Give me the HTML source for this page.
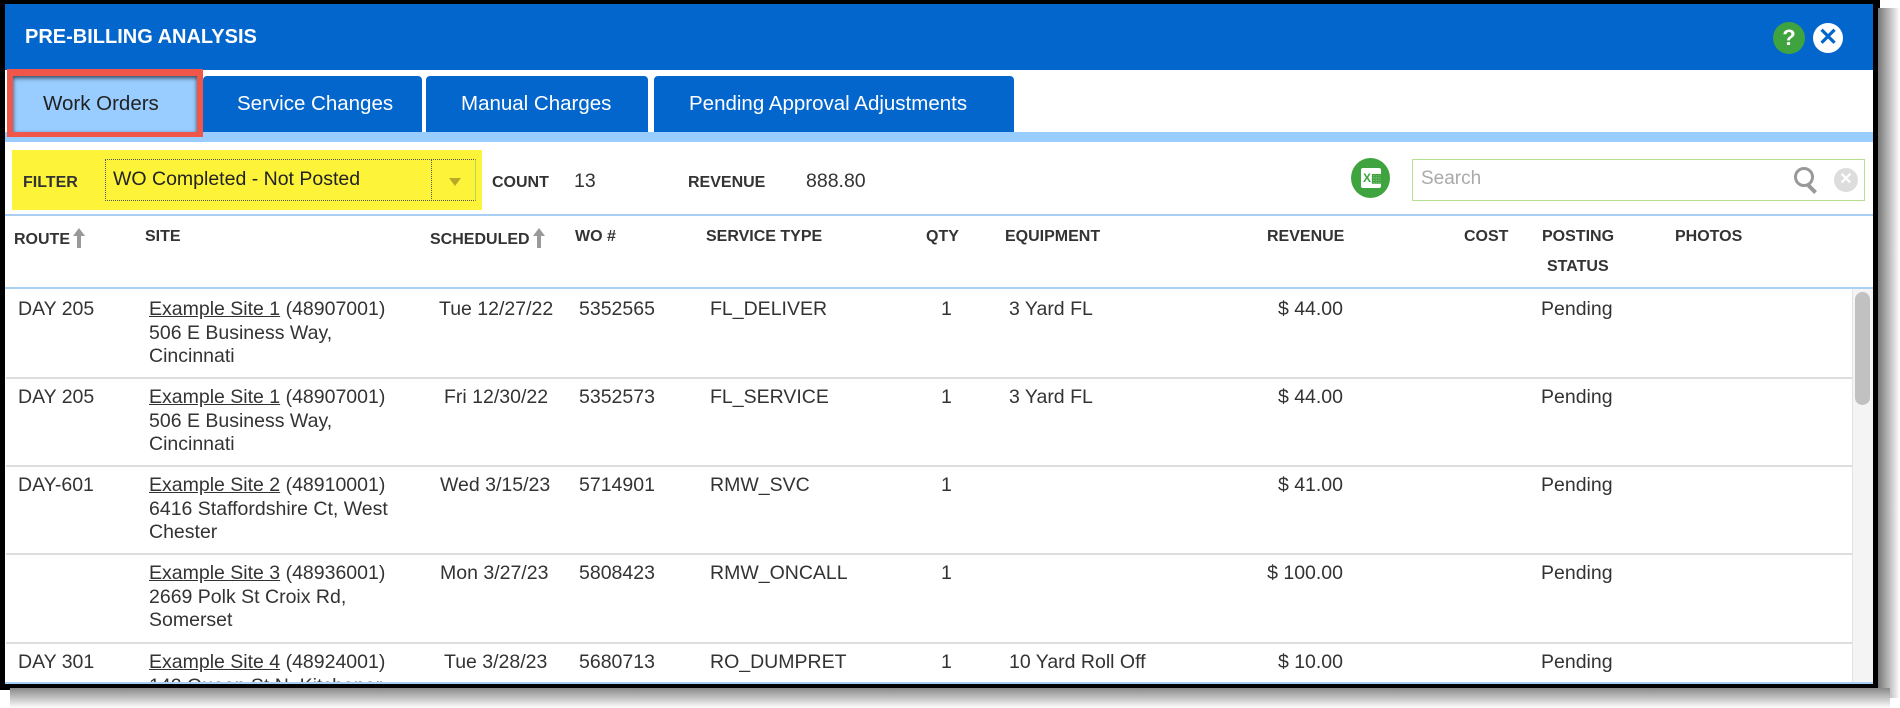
<!DOCTYPE html>
<html><head><meta charset="utf-8"><style>
*{margin:0;padding:0;box-sizing:border-box}
body{width:1900px;height:708px;background:#fff;position:relative;overflow:hidden;font-family:"Liberation Sans",Arial,sans-serif;color:#333}
.a{position:absolute;white-space:nowrap}
.h{font-weight:bold;font-size:16px;color:#333}
.c{font-size:19.5px;color:#333}
.t{font-size:20.5px}
.u{text-decoration:underline}
.sep{position:absolute;left:6px;width:1846px;height:2px;background:#ddd}
.ar{display:inline-block;position:relative;width:12px;height:20px;vertical-align:-4px;margin-left:3px}
.ar:before{content:"";position:absolute;left:0;top:0;border-left:6px solid transparent;border-right:6px solid transparent;border-bottom:8px solid #999}
.ar:after{content:"";position:absolute;left:4px;top:7px;width:4px;height:13px;background:#999}
</style></head><body>
<div class="a" style="left:0;top:0;width:1880px;height:690px;background:#000"></div>
<div class="a" style="left:1878px;top:8px;width:22px;height:690px;background:linear-gradient(to right,#777,#fff)"></div>
<div class="a" style="left:10px;top:688px;width:1880px;height:20px;background:linear-gradient(to bottom,#888,#fff)"></div>
<div class="a" style="left:5px;top:4px;width:1868px;height:680px;background:#fff"></div>
<div class="a" style="left:5px;top:4px;width:1868px;height:66px;background:#0366cc"></div>
<div class="a" style="left:25px;top:26px;color:#fff;font-weight:bold;font-size:20px">PRE-BILLING ANALYSIS</div>
<div class="a" style="left:1773px;top:22px;width:32px;height:32px;border-radius:50%;background:#3fa33f;color:#fff;font-weight:bold;font-size:22px;text-align:center;line-height:32px">?</div>
<div class="a" style="left:1813px;top:23px;width:30px;height:30px;border-radius:50%;background:#fff;color:#0366cc;font-weight:bold;font-size:24px;text-align:center;line-height:30px">✕</div>
<div class="a" style="left:5px;top:132px;width:1868px;height:10px;background:#99ccff"></div>
<div class="a" style="left:7px;top:69px;width:196px;height:68px;background:#f0574a"></div>
<div class="a" style="left:13px;top:76px;width:184px;height:56px;background:#99ccff;box-shadow:0 2px 4px #345 inset"></div>
<div class="a c t" style="left:43px;top:92px;color:#222">Work Orders</div>
<div class="a" style="left:203px;top:76px;width:219px;height:56px;background:#0366cc;border-radius:4px 4px 0 0"></div>
<div class="a c t" style="left:237px;top:92px;color:#fff">Service Changes</div>
<div class="a" style="left:426px;top:76px;width:222px;height:56px;background:#0366cc;border-radius:4px 4px 0 0"></div>
<div class="a c t" style="left:461px;top:92px;color:#fff">Manual Charges</div>
<div class="a" style="left:654px;top:76px;width:360px;height:56px;background:#0366cc;border-radius:4px 4px 0 0"></div>
<div class="a c t" style="left:689px;top:92px;color:#fff">Pending Approval Adjustments</div>
<div class="a" style="left:12px;top:150px;width:470px;height:60px;background:#fdf43a"></div>
<div class="a h" style="left:23px;top:174px">FILTER</div>
<div class="a" style="left:105px;top:159px;width:371px;height:42px;border:1px dotted #555;border-right:1px solid #bcd35a"></div>
<div class="a" style="left:431px;top:159px;width:1px;height:42px;border-left:1px dotted #555"></div>
<div class="a c" style="left:113px;top:168px;color:#222">WO Completed - Not Posted</div>
<div class="a" style="left:449px;top:178px;width:0;height:0;border-left:6px solid transparent;border-right:6px solid transparent;border-top:8px solid #b9a827"></div>
<div class="a h" style="left:492px;top:174px">COUNT</div>
<div class="a c" style="left:574px;top:170px">13</div>
<div class="a h" style="left:688px;top:174px">REVENUE</div>
<div class="a c" style="left:806px;top:170px">888.80</div>
<div class="a" style="left:1351px;top:158px;width:39px;height:40px;border-radius:50%;background:#3fa33f"></div>
<div class="a" style="left:1361px;top:168px;width:20px;height:20px;background:#fff;border-radius:2px;color:#3fa33f;font-size:12px;font-weight:bold;line-height:20px;padding-left:2px">X▦</div>
<div class="a" style="left:1412px;top:159px;width:453px;height:42px;border:1px solid #b7e08e"></div>
<div class="a" style="left:1421px;top:168px;font-size:19px;color:#aaa">Search</div>
<div class="a" style="left:1794px;top:167px;width:20px;height:20px;border:3px solid #999;border-radius:50%"></div>
<div class="a" style="left:1810px;top:184px;width:4px;height:10px;background:#999;transform:rotate(-45deg)"></div>
<div class="a" style="left:1834px;top:168px;width:24px;height:24px;border-radius:50%;background:#ddd;color:#fff;font-size:16px;text-align:center;line-height:24px;font-weight:bold">✕</div>
<div class="a" style="left:5px;top:214px;width:1868px;height:2px;background:#a9cff5"></div>
<div class="a" style="left:5px;top:287px;width:1868px;height:2px;background:#a9cff5"></div>
<div class="a h" style="left:14px;top:228px">ROUTE<span class="ar"></span></div>
<div class="a h" style="left:145px;top:228px">SITE</div>
<div class="a h" style="left:430px;top:228px">SCHEDULED<span class="ar"></span></div>
<div class="a h" style="left:575px;top:228px">WO #</div>
<div class="a h" style="left:706px;top:228px">SERVICE TYPE</div>
<div class="a h" style="left:926px;top:228px">QTY</div>
<div class="a h" style="left:1005px;top:228px">EQUIPMENT</div>
<div class="a h" style="left:1267px;top:228px">REVENUE</div>
<div class="a h" style="left:1464px;top:228px">COST</div>
<div class="a h" style="left:1542px;top:228px">POSTING</div>
<div class="a h" style="left:1547px;top:258px">STATUS</div>
<div class="a h" style="left:1675px;top:228px">PHOTOS</div>
<div class="a" style="left:1852px;top:289px;width:21px;height:395px;background:#f4f4f4;border-left:1px solid #e3e3e3"></div>
<div class="a" style="left:1855px;top:292px;width:15px;height:113px;background:#c1c1c1;border-radius:8px"></div>
<div class="sep" style="top:377px"></div>
<div class="sep" style="top:465px"></div>
<div class="sep" style="top:553px"></div>
<div class="sep" style="top:642px"></div>
<div class="a" style="left:5px;top:682px;width:1868px;height:2px;background:#a9cff5"></div>

<div class="a c" style="left:18px;top:298px">DAY 205</div>
<div class="a c" style="left:149px;top:298px;line-height:23.5px"><span class="u">Example Site 1</span> (48907001)<br>506 E Business Way,<br>Cincinnati</div>
<div class="a c" style="left:439px;top:298px">Tue 12/27/22</div>
<div class="a c" style="left:579px;top:298px">5352565</div>
<div class="a c" style="left:710px;top:298px">FL_DELIVER</div>
<div class="a c" style="left:941px;top:298px">1</div>
<div class="a c" style="left:1009px;top:298px">3 Yard FL</div>
<div class="a c" style="left:1262px;top:298px;width:81px;text-align:right">$ 44.00</div>
<div class="a c" style="left:1541px;top:298px">Pending</div>

<div class="a c" style="left:18px;top:386px">DAY 205</div>
<div class="a c" style="left:149px;top:386px;line-height:23.5px"><span class="u">Example Site 1</span> (48907001)<br>506 E Business Way,<br>Cincinnati</div>
<div class="a c" style="left:444px;top:386px">Fri 12/30/22</div>
<div class="a c" style="left:579px;top:386px">5352573</div>
<div class="a c" style="left:710px;top:386px">FL_SERVICE</div>
<div class="a c" style="left:941px;top:386px">1</div>
<div class="a c" style="left:1009px;top:386px">3 Yard FL</div>
<div class="a c" style="left:1262px;top:386px;width:81px;text-align:right">$ 44.00</div>
<div class="a c" style="left:1541px;top:386px">Pending</div>

<div class="a c" style="left:18px;top:474px">DAY-601</div>
<div class="a c" style="left:149px;top:474px;line-height:23.5px"><span class="u">Example Site 2</span> (48910001)<br>6416 Staffordshire Ct, West<br>Chester</div>
<div class="a c" style="left:440px;top:474px">Wed 3/15/23</div>
<div class="a c" style="left:579px;top:474px">5714901</div>
<div class="a c" style="left:710px;top:474px">RMW_SVC</div>
<div class="a c" style="left:941px;top:474px">1</div>
<div class="a c" style="left:1262px;top:474px;width:81px;text-align:right">$ 41.00</div>
<div class="a c" style="left:1541px;top:474px">Pending</div>

<div class="a c" style="left:149px;top:562px;line-height:23.5px"><span class="u">Example Site 3</span> (48936001)<br>2669 Polk St Croix Rd,<br>Somerset</div>
<div class="a c" style="left:440px;top:562px">Mon 3/27/23</div>
<div class="a c" style="left:579px;top:562px">5808423</div>
<div class="a c" style="left:710px;top:562px">RMW_ONCALL</div>
<div class="a c" style="left:941px;top:562px">1</div>
<div class="a c" style="left:1232px;top:562px;width:111px;text-align:right">$ 100.00</div>
<div class="a c" style="left:1541px;top:562px">Pending</div>

<div style="position:absolute;left:5px;top:644px;width:1847px;height:38px;overflow:hidden">
<div class="a c" style="left:13px;top:7px">DAY 301</div>
<div class="a c" style="left:144px;top:7px;line-height:23.5px"><span class="u">Example Site 4</span> (48924001)<br>142 Queen St N, Kitchener</div>
<div class="a c" style="left:439px;top:7px">Tue 3/28/23</div>
<div class="a c" style="left:574px;top:7px">5680713</div>
<div class="a c" style="left:705px;top:7px">RO_DUMPRET</div>
<div class="a c" style="left:936px;top:7px">1</div>
<div class="a c" style="left:1004px;top:7px">10 Yard Roll Off</div>
<div class="a c" style="left:1257px;top:7px;width:81px;text-align:right">$ 10.00</div>
<div class="a c" style="left:1536px;top:7px">Pending</div>
</div>
</body></html>
